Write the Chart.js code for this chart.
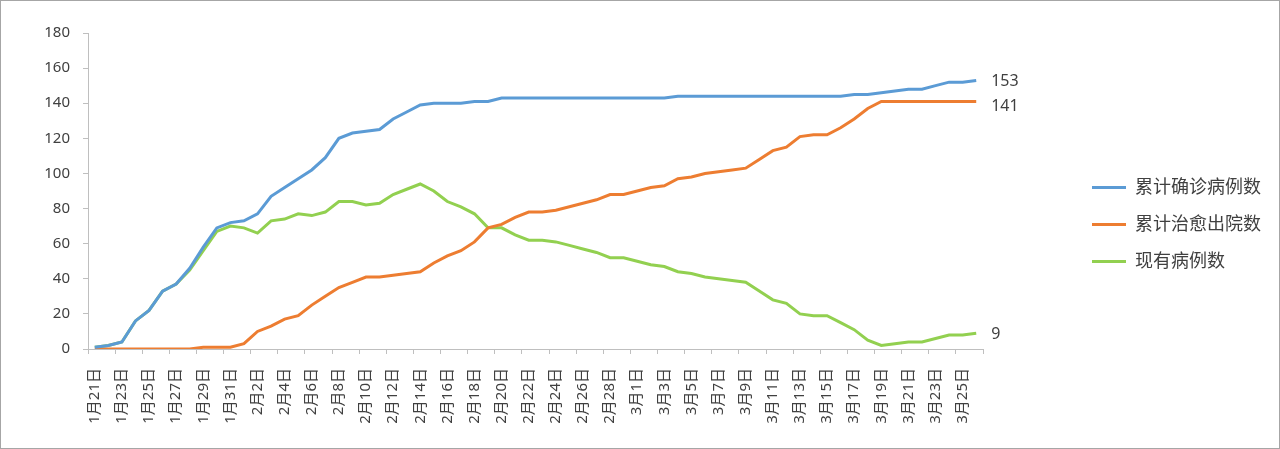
<!DOCTYPE html>
<html>
<head>
<meta charset="utf-8">
<script src="https://cdn.jsdelivr.net/npm/chart.js@4/dist/chart.umd.min.js"></script>
<style>
  html, body { margin: 0; padding: 0; background: #fff; }
  #wrap { width: 1280px; height: 449px; }
</style>
</head>
<body>
<div id="wrap"><canvas id="chart"></canvas></div>
<script>
const dates = [
    '1月21日','1月22日','1月23日','1月24日','1月25日','1月26日','1月27日','1月28日','1月29日','1月30日','1月31日',
    '2月1日','2月2日','2月3日','2月4日','2月5日','2月6日','2月7日','2月8日','2月9日','2月10日',
    '2月11日','2月12日','2月13日','2月14日','2月15日','2月16日','2月17日','2月18日','2月19日','2月20日',
    '2月21日','2月22日','2月23日','2月24日','2月25日','2月26日','2月27日','2月28日','2月29日',
    '3月1日','3月2日','3月3日','3月4日','3月5日','3月6日','3月7日','3月8日','3月9日','3月10日',
    '3月11日','3月12日','3月13日','3月14日','3月15日','3月16日','3月17日','3月18日','3月19日','3月20日',
    '3月21日','3月22日','3月23日','3月24日','3月25日','3月26日'
];

const confirmed = [
    1, 2, 4, 16, 22, 33, 37, 46, 58, 69,
    72, 73, 77, 87, 92, 97, 102, 109, 120, 123,
    124, 125, 131, 135, 139, 140, 140, 140, 141, 141,
    143, 143, 143, 143, 143, 143, 143, 143, 143, 143,
    143, 143, 143, 144, 144, 144, 144, 144, 144, 144,
    144, 144, 144, 144, 144, 144, 145, 145, 146, 147,
    148, 148, 150, 152, 152, 153
];

const cured = [
    0, 0, 0, 0, 0, 0, 0, 0, 1, 1,
    1, 3, 10, 13, 17, 19, 25, 30, 35, 38,
    41, 41, 42, 43, 44, 49, 53, 56, 61, 69,
    71, 75, 78, 78, 79, 81, 83, 85, 88, 88,
    90, 92, 93, 97, 98, 100, 101, 102, 103, 108,
    113, 115, 121, 122, 122, 126, 131, 137, 141, 141,
    141, 141, 141, 141, 141, 141
];

const current = [
    1, 2, 4, 16, 22, 33, 37, 45, 56, 67,
    70, 69, 66, 73, 74, 77, 76, 78, 84, 84,
    82, 83, 88, 91, 94, 90, 84, 81, 77, 69,
    69, 65, 62, 62, 61, 59, 57, 55, 52, 52,
    50, 48, 47, 44, 43, 41, 40, 39, 38, 33,
    28, 26, 20, 19, 19, 15, 11, 5, 2, 3,
    4, 4, 6, 8, 8, 9
];

const seriesNames = ['累计确诊病例数', '累计治愈出院数', '现有病例数'];
const yTicks = [0, 20, 40, 60, 80, 100, 120, 140, 160, 180];

const colors = ['#5B9BD5', '#ED7D31', '#92D050'];
const axisGray = '#bfbfbf';
const fontFamily = '"Noto Sans", "Noto Sans CJK SC", sans-serif';

// value labels at the end of each line
const endLabels = {
    id: 'endLabels',
    afterDatasetsDraw(chart) {
        const ctx = chart.ctx;
        ctx.save();
        ctx.font = '16px ' + fontFamily;
        ctx.fillStyle = '#404040';
        ctx.textBaseline = 'middle';
        ctx.textAlign = 'left';
        const shift = [1, 5, 1];
        chart.data.datasets.forEach((ds, i) => {
            const meta = chart.getDatasetMeta(i);
            const last = meta.data[meta.data.length - 1];
            ctx.fillText(String(ds.data[ds.data.length - 1]), last.x + 15, last.y + shift[i]);
        });
        ctx.restore();
    }
};

// thin frame round the whole picture
const frame = {
    id: 'frame',
    afterDraw(chart) {
        const ctx = chart.ctx;
        ctx.save();
        ctx.strokeStyle = '#a6a6a6';
        ctx.lineWidth = 1;
        ctx.strokeRect(0.5, 0.5, chart.width - 1, chart.height - 1);
        ctx.restore();
    }
};

new Chart(document.getElementById('chart'), {
    type: 'line',
    data: {
        labels: dates,
        datasets: [
            { label: seriesNames[0], data: confirmed },
            { label: seriesNames[1], data: cured },
            { label: seriesNames[2], data: current }
        ].map((d, i) => ({
            ...d,
            borderColor: colors[i],
            backgroundColor: colors[i],
            borderWidth: 3,
            pointRadius: 0,
            tension: 0,
            fill: false
        }))
    },
    options: {
        responsive: true,
        maintainAspectRatio: false,
        animation: false,
        layout: { padding: { top: 0, left: 0, right: 9, bottom: 0 } },
        plugins: {
            tooltip: { enabled: false },
            legend: {
                position: 'right',
                align: 'center',
                labels: {
                    usePointStyle: true,
                    pointStyle: 'line',
                    pointStyleWidth: 34,
                    padding: 19,
                    color: '#404040',
                    font: { family: fontFamily, size: 18 }
                }
            }
        },
        scales: {
            x: {
                offset: true,
                grid: {
                    offset: true,
                    drawOnChartArea: false,
                    tickLength: 5,
                    color: (c) => (c.index === undefined || c.index % 2 === 0) ? axisGray : 'rgba(0,0,0,0)'
                },
                border: { color: axisGray },
                ticks: {
                    autoSkip: false,
                    minRotation: 90,
                    maxRotation: 90,
                    padding: 14,
                    color: '#404040',
                    font: { family: fontFamily, size: 15 },
                    callback: function (v, i) { return i % 2 === 0 ? this.getLabelForValue(v) : ''; }
                },
                afterFit: (s) => { s.height = 100; }
            },
            // empty band above the plot
            xTop: {
                position: 'top',
                display: true,
                grid: { display: false },
                border: { display: false },
                ticks: { display: false },
                afterFit: (s) => { s.height = 33; }
            },
            y: {
                min: 0,
                max: 180,
                afterBuildTicks: (s) => { s.ticks = yTicks.map(v => ({ value: v })); },
                grid: { drawOnChartArea: false, tickLength: 5, color: axisGray },
                border: { color: axisGray },
                ticks: {
                    padding: 13,
                    color: '#404040',
                    font: { family: fontFamily, size: 15 }
                },
                afterFit: (s) => { s.width = 88; }
            },
            // room for the end labels
            y2: {
                position: 'right',
                display: true,
                grid: { display: false },
                border: { display: false },
                ticks: { display: false },
                afterFit: (s) => { s.width = 90; }
            }
        }
    },
    plugins: [endLabels, frame]
});
</script>
</body>
</html>
